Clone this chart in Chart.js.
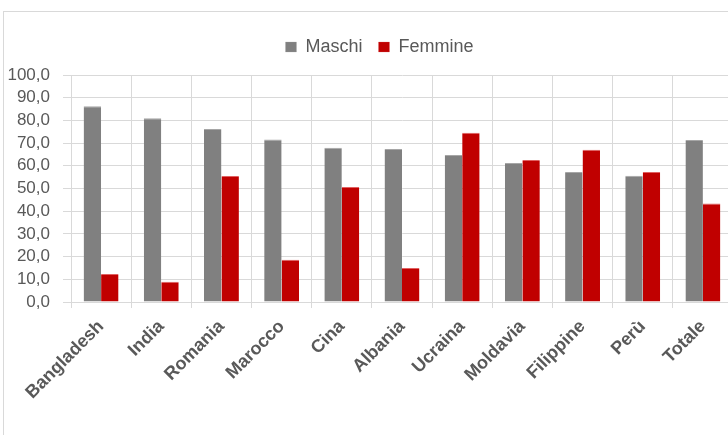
<!DOCTYPE html>
<html lang="it">
<head>
    <meta charset="UTF-8">
    <title>Maschi e Femmine per paese</title>
    <script src="https://cdn.jsdelivr.net/npm/chart.js"></script>
    <style>
        html, body {
            margin: 0;
            padding: 0;
            background: #ffffff;
            overflow: hidden;
            width: 728px;
            height: 435px;
        }
        #frame {
            position: absolute;
            left: 3px;
            top: 11px;
            width: 760px;
            height: 440px;
            border: 1px solid #d9d9d9;
        }
        #wrap {
            position: absolute;
            left: 0;
            top: 0;
            width: 745px;
            height: 435px;
        }
    </style>
</head>
<body>
    <div id="frame"></div>
    <div id="wrap"><canvas id="paesiChart"></canvas></div>

    <script>
        // Dati
        const categorie = ['Bangladesh', 'India', 'Romania', 'Marocco', 'Cina', 'Albania',
                           'Ucraina', 'Moldavia', 'Filippine', 'Perù', 'Totale'];
        const maschi  = [86.2, 81.0, 76.2, 71.6, 68.0, 67.4, 64.8, 61.2, 57.3, 55.6, 71.4];
        const femmine = [12.3, 8.9, 55.5, 18.6, 50.7, 15.0, 74.6, 62.6, 67.1, 57.3, 43.4];
        const serie = ['Maschi', 'Femmine'];

        const FONT = "'Liberation Sans', Arial, sans-serif";
        const GRID = '#d9d9d9';
        const TESTO = '#595959';

        // sposta un po' la legenda verso destra, come nell'originale
        const spostaLegenda = {
            id: 'spostaLegenda',
            afterLayout(chart) {
                chart.legend.left += 13;
                chart.legend.right += 13;
            }
        };

        const ctx = document.getElementById('paesiChart').getContext('2d');
        const chart = new Chart(ctx, {
            type: 'bar',
            data: {
                labels: categorie,
                datasets: [{
                    label: serie[0],
                    data: maschi,
                    backgroundColor: '#808080',
                    borderColor: '#a6a6a6',
                    borderWidth: { top: 1, left: 0, right: 0, bottom: 0 }
                }, {
                    label: serie[1],
                    data: femmine,
                    backgroundColor: '#c00000',
                    borderColor: '#e06060',
                    borderWidth: { top: 1, left: 0, right: 0, bottom: 0 }
                }]
            },
            plugins: [spostaLegenda],
            options: {
                responsive: true,
                maintainAspectRatio: false,
                animation: false,
                layout: { padding: { top: 22, right: 12, bottom: 0, left: 0 } },
                plugins: {
                    legend: {
                        position: 'top',
                        labels: {
                            boxWidth: 11,
                            boxHeight: 10,
                            padding: 16,
                            color: TESTO,
                            font: { family: FONT, size: 18 }
                        }
                    },
                    // spazio vuoto tra legenda e grafico
                    subtitle: {
                        display: true,
                        text: '',
                        weight: 500,
                        font: { size: 1, lineHeight: 1 },
                        padding: { top: 0, bottom: 8 }
                    },
                    tooltip: { enabled: false }
                },
                datasets: {
                    bar: { categoryPercentage: 0.58, barPercentage: 1.0 }
                },
                scales: {
                    x: {
                        grid: { color: GRID, offset: true, tickLength: 6 },
                        border: { color: GRID },
                        ticks: {
                            color: TESTO,
                            minRotation: 45,
                            maxRotation: 45,
                            padding: 8,
                            autoSkip: false,
                            font: { family: FONT, size: 18, weight: 'bold' }
                        },
                        afterFit: function (scale) { scale.height = 133; }
                    },
                    y: {
                        min: 0,
                        max: 100,
                        grid: { color: GRID, tickLength: 8 },
                        border: { color: GRID },
                        ticks: {
                            stepSize: 10,
                            autoSkip: false,
                            color: TESTO,
                            padding: 13,
                            font: { family: FONT, size: 17 },
                            callback: v => v.toFixed(1).replace('.', ',')
                        },
                        afterFit: function (scale) { scale.width = 71; }
                    }
                }
            }
        });
    </script>
</body>
</html>
